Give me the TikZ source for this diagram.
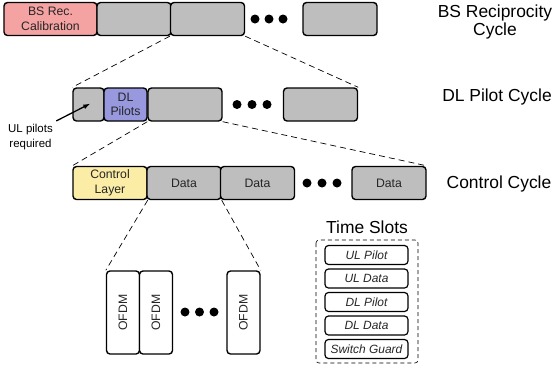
\documentclass[tikz,border=0pt]{standalone}
\usepackage{fontspec}
\setmainfont{Liberation Sans}
\usepackage{tikz}
\usepackage{xcolor}
\usetikzlibrary{arrows.meta, positioning}

\definecolor{calibred}{RGB}{244,162,162}
\definecolor{pilotblue}{RGB}{152,152,222}
\definecolor{ctrlyellow}{RGB}{251,236,166}
\definecolor{slotgray}{RGB}{190,190,190}

\tikzset{
  slot/.style={draw, line width=1.4pt, rounded corners=3.5bp, fill=slotgray,
    minimum width=74bp, minimum height=33bp, inner sep=0pt, align=center,
    text=black!85, font=\fontsize{12.3}{14.5}\selectfont},
  ofdm/.style={slot, fill=white, minimum width=33bp, minimum height=83bp},
  legendslot/.style={slot, fill=white, line width=1.2pt, minimum width=83bp,
    minimum height=19bp, font=\fontsize{12}{12}\selectfont\itshape},
  zoomline/.style={dash pattern=on 6bp off 4bp, line width=0.7pt},
  cyclelabel/.style={align=center, font=\fontsize{17.5}{19}\selectfont},
  dotmark/.style={fill=black, circle, inner sep=0pt, minimum size=9bp}
}

\begin{document}
\begin{tikzpicture}[x=1bp, y=-1bp]
  \useasboundingbox (0,0) rectangle (556,371);

  % BS reciprocity cycle
  \node[slot, fill=calibred, minimum width=93bp] (calib) at (50.5,19) {BS Rec.\\Calibration};
  \node[slot] (r1b) at (134,19) {};
  \node[slot] (r1c) at (207.5,19) {};
  \node[dotmark] (d1a) at (255,19) {};
  \node[dotmark] (d1b) at (269,19) {};
  \node[dotmark] (d1c) at (283,19) {};
  \node[slot] (r1d) at (340,19) {};
  \node[cyclelabel] (bslabel) at (495,22) {BS Reciprocity\\Cycle};

  % DL pilot cycle
  \node[slot, minimum width=31bp] (r2a) at (88.5,104.5) {};
  \node[slot, fill=pilotblue, minimum width=43bp] (dlpilot) at (125.5,104.5) {DL\\Pilots};
  \node[slot] (r2c) at (185,104.5) {};
  \node[dotmark] (d2a) at (237,104.5) {};
  \node[dotmark] (d2b) at (252,104.5) {};
  \node[dotmark] (d2c) at (267,104.5) {};
  \node[slot] (r2d) at (320.5,104.5) {};
  \node[cyclelabel] (dllabel) at (497,97) {DL Pilot Cycle};

  \node[align=center, font=\fontsize{11.5}{14.5}\selectfont] (ulnote) at (30.5,137) {UL pilots\\required};
  \draw[-{Latex[length=7bp,width=5bp]}, line width=1.3pt, shorten >=-2bp] (ulnote.north east) -- (r2a.center);

  % control cycle
  \node[slot, fill=ctrlyellow] (ctrl) at (110,183) {Control\\Layer};
  \node[slot] (data1) at (184,183) {Data};
  \node[slot] (data2) at (257.5,183) {Data};
  \node[dotmark] (d3a) at (307,183) {};
  \node[dotmark] (d3b) at (322,183) {};
  \node[dotmark] (d3c) at (337,183) {};
  \node[slot] (data3) at (389,183) {Data};
  \node[cyclelabel] (ctrllabel) at (499,184) {Control Cycle};

  % OFDM symbols
  \node[ofdm] (o1) at (123,312.5) {\rotatebox{90}{OFDM}};
  \node[ofdm] (o2) at (156,312.5) {\rotatebox{90}{OFDM}};
  \node[dotmark] (d4a) at (185,312) {};
  \node[dotmark] (d4b) at (199.5,312) {};
  \node[dotmark] (d4c) at (214,312) {};
  \node[ofdm] (o3) at (243.5,312.5) {\rotatebox{90}{OFDM}};

  % zoom lines
  \draw[zoomline] (r1c.south west) -- (r2a.north west);
  \draw[zoomline] (r1c.south east) -- (r2d.north east);
  \draw[zoomline] (r2c.south west) -- (ctrl.north west);
  \draw[zoomline] (r2c.south east) -- (data3.north east);
  \draw[zoomline] (ctrl.south east) -- (o1.north west);
  \draw[zoomline] (data1.south east) -- (o3.north east);

  % legend
  \node[cyclelabel] (legtitle) at (367,227) {Time Slots};
  \node[legendslot] (ulpilot) at (366.5,255) {UL Pilot};
  \node[legendslot] (uldata) at (366.5,278.5) {UL Data};
  \node[legendslot] (dlpil) at (366.5,302) {DL Pilot};
  \node[legendslot] (dldata) at (366.5,325.5) {DL Data};
  \node[legendslot] (guard) at (366.5,349) {Switch Guard};
  \draw[zoomline, line width=0.6pt, dash pattern=on 4bp off 3bp, rounded corners=3bp]
    (316,240) rectangle (418,363);
\end{tikzpicture}
\end{document}
